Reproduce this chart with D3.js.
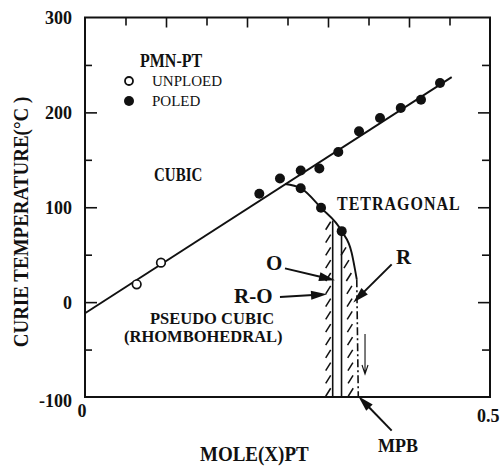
<!DOCTYPE html>
<html><head><meta charset="utf-8">
<script src="https://cdn.jsdelivr.net/npm/d3@7"></script>
<style>
html,body{margin:0;padding:0;background:#fff;}
svg{display:block;}
text{font-family:"Liberation Serif","Times New Roman",serif;fill:#111;}
</style>
</head><body>
<svg id="c" width="502" height="468"></svg>
<script>
// ---------------- data (x = mole fraction PT, T = temperature in °C) ----------------
const unpoledX = [0.0638, 0.0938];
const unpoledT = [18.8, 41.6];
const poledX = [0.2152, 0.2407, 0.2663, 0.2893, 0.3127, 0.3383, 0.3642, 0.3898, 0.4148, 0.4383, 0.2663, 0.2914, 0.3169];
const poledT = [114.2, 130.3, 138.7, 140.8, 158.3, 180.0, 194.1, 204.6, 213.3, 230.9, 120.1, 99.4, 74.8];
const cubicLineX = [0, 0.4527];
const cubicLineT = [-11.7, 237.2];
const tetraX = [0.247, 0.2663, 0.2914, 0.3169, 0.3292, 0.3333, 0.3355];
const tetraT = [124.5, 120.1, 99.4, 74.8, 52.1, 34.6, 24];
const mpbDashX = [0.3355, 0.3374];
const mpbDashT = [24, -100];
const oBoundX = [0.3058, 0.3058];
const oBoundT = [86, -100];
const roBoundX = [0.3167, 0.3167];
const roBoundT = [74.8, -100];
// arrows: from (x,T) to (x,T)
const arrowNames = ["O", "R-O", "R", "MPB"];
const arrowFromX = [0.2469, 0.2407, 0.3786, 0.3786];
const arrowFromT = [35.6, 5.5, 39.8, -135.4];
const arrowToX = [0.3086, 0.2988, 0.3312, 0.3374];
const arrowToT = [23.0, 8.3, -0.4, -99.2];
const smallArrowX = [0.3457, 0.3457];
const smallArrowT = [-33.7, -75.8];
// axes
const xDomain = [0, 0.5];
const yDomain = [-100, 300];
const yTickValues = [300, 200, 100, 0, -100];
const yTickLabels = ["300", "200", "100", "0", "-100"];
const xTickLabels = ["0", "0.5"];
const xMinorTicks = [0.05, 0.15, 0.25, 0.35, 0.45];
const xMajorTicks = [0.1, 0.2, 0.3, 0.4];
const yMinorTicks = [-50, 50, 150, 250];
const yMajorTicks = [0, 100, 200];
const yTitle = "CURIE TEMPERATURE(°C )";
const xTitle = "MOLE(X)PT";

// ---------------- drawing ----------------
const svg = d3.select("#c");
const L = 85, R = 490, T = 17.5, B = 397;
const x = d3.scaleLinear().domain(xDomain).range([L, R]);
const y = d3.scaleLinear().domain(yDomain).range([B, T]);
const ink = "#111";

// ticks via axes (inward)
function noDomain(g){ g.select(".domain").remove(); g.selectAll(".tick line").attr("stroke", ink).attr("stroke-width", 1.6); g.selectAll(".tick text").remove(); }
svg.append("g").attr("transform", `translate(0,${T})`).call(d3.axisBottom(x).tickValues(xMinorTicks).tickSize(8).tickFormat("")).call(noDomain);
svg.append("g").attr("transform", `translate(0,${T})`).call(d3.axisBottom(x).tickValues(xMajorTicks).tickSize(10).tickFormat("")).call(noDomain);
svg.append("g").attr("transform", `translate(${L},0)`).call(d3.axisRight(y).tickValues(yMinorTicks).tickSize(7).tickFormat("")).call(noDomain);
svg.append("g").attr("transform", `translate(${L},0)`).call(d3.axisRight(y).tickValues(yMajorTicks).tickSize(12).tickFormat("")).call(noDomain);
svg.append("g").attr("transform", `translate(${R},0)`).call(d3.axisLeft(y).tickValues(yMinorTicks).tickSize(8).tickFormat("")).call(noDomain);
svg.append("g").attr("transform", `translate(${R},0)`).call(d3.axisLeft(y).tickValues(yMajorTicks).tickSize(12).tickFormat("")).call(noDomain);

// frame
svg.append("rect").attr("x", L).attr("y", T).attr("width", R - L).attr("height", B - T)
  .attr("fill", "none").attr("stroke", ink).attr("stroke-width", 2);

// tick labels (left)
const yAx = svg.append("g").attr("transform", `translate(${L},0)`)
  .call(d3.axisLeft(y).tickValues(yTickValues).tickSize(0).tickPadding(13).tickFormat((d, i) => yTickLabels[i]));
yAx.select(".domain").remove();
yAx.selectAll("text").attr("font-family", '"Liberation Serif","Times New Roman",serif')
  .attr("font-size", 18).attr("font-weight", "bold").attr("fill", ink)
  .attr("dy", "0.36em");
yAx.selectAll(".tick").filter(d => d === -100).select("text").attr("dy", "0.55em");

// x tick labels
svg.append("text").attr("x", x(xDomain[0]) - 3).attr("y", B + 20).attr("text-anchor", "middle")
  .attr("font-size", 18).attr("font-weight", "bold").text(xTickLabels[0]);
svg.append("text").attr("x", x(xDomain[1]) - 13).attr("y", B + 25)
  .attr("font-size", 18).attr("font-weight", "bold").text(xTickLabels[1]);

// titles
svg.append("text").attr("transform", `translate(28,222) rotate(-90) scale(1,1.12)`).attr("text-anchor", "middle")
  .attr("font-size", 19).attr("font-weight", "bold").text(yTitle);
svg.append("text").attr("transform", "translate(200,461) scale(1,1.08)").attr("font-size", 19).attr("font-weight", "bold").text(xTitle);

// lines
const line = d3.line().x(d => x(d[0])).y(d => y(d[1]));
const zip = (a, b) => a.map((v, i) => [v, b[i]]);
svg.append("path").attr("d", line(zip(cubicLineX, cubicLineT))).attr("fill", "none").attr("stroke", ink).attr("stroke-width", 1.9);
svg.append("path").attr("d", line.curve(d3.curveMonotoneX)(zip(tetraX, tetraT))).attr("fill", "none").attr("stroke", ink).attr("stroke-width", 1.9);
line.curve(d3.curveLinear);
svg.append("path").attr("d", line(zip(mpbDashX, mpbDashT))).attr("fill", "none").attr("stroke", ink).attr("stroke-width", 1.6).attr("stroke-dasharray", "8,3,2,3");
svg.append("path").attr("d", line(zip(oBoundX, oBoundT))).attr("fill", "none").attr("stroke", ink).attr("stroke-width", 1.6);
svg.append("path").attr("d", line(zip(roBoundX, roBoundT))).attr("fill", "none").attr("stroke", ink).attr("stroke-width", 1.6);

// hatching: left of O boundary
const hatch = svg.append("g").attr("stroke", ink).attr("stroke-width", 1.5);
d3.range(-95, oBoundT[0] - 2, 13.5).forEach(v => {
  const px = x(oBoundX[0]), py = y(v);
  hatch.append("line").attr("x1", px - 7).attr("y1", py + 4).attr("x2", px - 2).attr("y2", py - 4);
});
// hatching along the R boundary (curve + dashed)
const rb = d3.scaleLinear().domain(tetraT.slice(3).concat([mpbDashT[1]])).range(tetraX.slice(3).concat([mpbDashX[1]]));
d3.range(-95, 62, 13.5).forEach(v => {
  const px = x(rb(v)), py = y(v);
  hatch.append("line").attr("x1", px - 10).attr("y1", py + 4).attr("x2", px - 5).attr("y2", py - 4);
});

// points
svg.append("g").selectAll("circle").data(zip(unpoledX, unpoledT)).join("circle")
  .attr("cx", d => x(d[0])).attr("cy", d => y(d[1])).attr("r", 4.3)
  .attr("fill", "#fff").attr("stroke", ink).attr("stroke-width", 1.7);
svg.append("g").selectAll("circle").data(zip(poledX, poledT)).join("circle")
  .attr("cx", d => x(d[0])).attr("cy", d => y(d[1])).attr("r", 5)
  .attr("fill", ink);

// arrows
function arrow(x1, y1, x2, y2, len, wid) {
  const a = Math.atan2(y2 - y1, x2 - x1);
  const bx = x2 - len * Math.cos(a), by = y2 - len * Math.sin(a);
  svg.append("line").attr("x1", x1).attr("y1", y1).attr("x2", bx + 2 * Math.cos(a)).attr("y2", by + 2 * Math.sin(a))
    .attr("stroke", ink).attr("stroke-width", 2);
  const nx = -Math.sin(a) * wid / 2, ny = Math.cos(a) * wid / 2;
  svg.append("path").attr("d", `M${x2},${y2}L${bx + nx},${by + ny}L${bx - nx},${by - ny}Z`).attr("fill", ink);
}
arrowNames.forEach((n, i) => arrow(x(arrowFromX[i]), y(arrowFromT[i]), x(arrowToX[i]), y(arrowToT[i]), 16, 9));
// small open arrow
{
  const sx = x(smallArrowX[0]), sy1 = y(smallArrowT[0]), sy2 = y(smallArrowT[1]);
  svg.append("path").attr("d", `M${sx},${sy1}L${sx},${sy2}M${sx - 3},${sy2 - 9}L${sx},${sy2}L${sx + 3},${sy2 - 9}`)
    .attr("fill", "none").attr("stroke", ink).attr("stroke-width", 1.1);
}

// labels
const lab = (t, px, py, fs, sy, bold) => svg.append("text")
  .attr("transform", `translate(${px},${py}) scale(1,${sy})`)
  .attr("font-size", fs).attr("font-weight", bold === false ? "normal" : "bold").text(t);

// legend
lab("PMN-PT", 140, 67, 16, 1.18);
svg.append("circle").attr("cx", 129).attr("cy", 81).attr("r", 4).attr("fill", "#fff").attr("stroke", ink).attr("stroke-width", 1.8);
svg.append("circle").attr("cx", 129).attr("cy", 101).attr("r", 5).attr("fill", ink);
lab("UNPLOED", 152, 86, 15, 1.0, false);
lab("POLED", 152, 106, 15, 1.0, false);

// region labels
lab("CUBIC", 154, 181, 15, 1.25);
lab("TETRAGONAL", 337, 210, 16, 1.15).attr("letter-spacing", 1);
lab("O", 266, 270, 21, 1.0);
lab("R-O", 234, 303, 21, 1.0);
lab("R", 396, 264, 21, 1.0);
lab("PSEUDO CUBIC", 150, 323.5, 16.5, 1.0);
lab("(RHOMBOHEDRAL)", 124, 342, 16.5, 1.0);
lab("MPB", 378, 452, 18, 1.05);
</script>
</body></html>
